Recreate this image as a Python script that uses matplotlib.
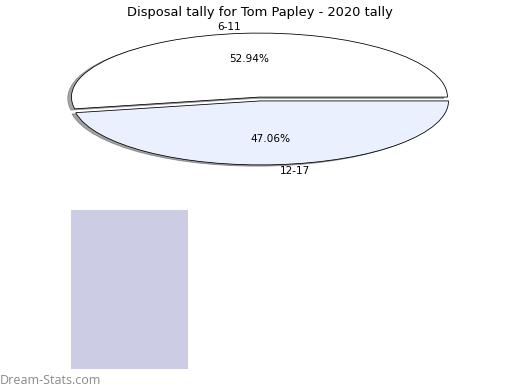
import matplotlib
matplotlib.use("Agg")
import matplotlib.pyplot as plt

categories = ["6-11", "12-17"]
counts = [9, 8]
slice_colors = ["#ffffff", "#eaf0fd"]
title = "Disposal tally for Tom Papley - 2020 tally"

W, H = 520, 390
fig = plt.figure(figsize=(W / 72, H / 72), dpi=72)

ax = fig.add_axes([25 / W, 1 - 179 / H, 470 / W, 160 / H])
ax.pie(counts, labels=categories, colors=slice_colors, autopct="%.2f%%",
       explode=[0.03, 0.03], shadow=True,
       wedgeprops={"edgecolor": "black", "linewidth": 0.8},
       textprops={"fontsize": 10.5})
ax.set_aspect("auto")
ax.set_title(title, fontsize=13, pad=2)

# empty shaded panel below the pie
ax2 = fig.add_axes([71 / W, 1 - 369 / H, 117 / W, 159 / H])
ax2.set_facecolor("#ccccE5")
ax2.set_xticks([])
ax2.set_yticks([])
for s in ax2.spines.values():
    s.set_visible(False)

fig.text(0.0, 3 / H, "Dream-Stats.com", fontsize=12.5, color="#8a8a8a",
         family="Open Sans", ha="left", va="bottom")

fig.savefig("out.png", dpi=72)
